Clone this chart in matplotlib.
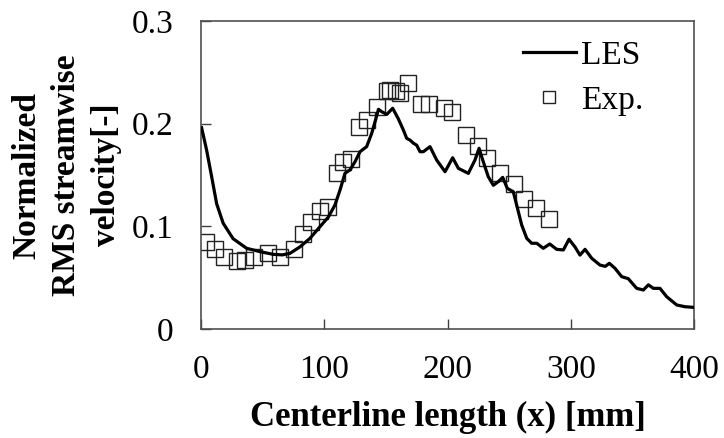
import matplotlib
matplotlib.use("Agg")
import matplotlib.pyplot as plt

plt.rcParams['font.family'] = ['Liberation Serif', 'DejaVu Serif']

les_x = [0.5, 2, 4.6, 8.7, 12.7, 18, 26, 37, 48, 58.7, 66, 72.2, 80.3, 88.4, 96.5, 103.3,
         108.7, 112.8, 116.8, 120.9, 125, 129, 134.4, 138.5, 142, 144, 146.6, 150.7, 155.5,
         160, 164.2, 166.9, 169.6, 172.3, 175, 177.7, 180.4, 185.8, 191.2, 198, 204.2,
         208.8, 216.9, 222.3, 225.6, 229, 233.1, 237.2, 241.2, 244.8, 248.5, 253.4, 256.1,
         260.2, 264.3, 268.3, 272.4, 277.7, 283, 288.6, 294, 298.6, 303.4, 307.5, 311.6,
         317, 323.7, 328, 331.3, 336, 341.3, 346.7, 353.5, 358.9, 363, 367, 372.4, 377.8,
         386, 392.7, 399.4]
les_y = [0.196, 0.188, 0.174, 0.148, 0.122, 0.103, 0.088, 0.0786, 0.0753, 0.0727, 0.0722,
         0.0737, 0.080, 0.0883, 0.0996, 0.109, 0.1208, 0.1354, 0.1516, 0.155, 0.163, 0.1727,
         0.1776, 0.1906, 0.2052, 0.214, 0.2117, 0.209, 0.215, 0.205, 0.1938, 0.1857, 0.184,
         0.181, 0.179, 0.1727, 0.1727, 0.1776, 0.1646, 0.1532, 0.1668, 0.1565, 0.1516,
         0.1646, 0.176, 0.163, 0.1483, 0.140, 0.1435, 0.1477, 0.137, 0.1337, 0.1208, 0.1013,
         0.0883, 0.0835, 0.0835, 0.0786, 0.0828, 0.0776, 0.077, 0.0874, 0.080, 0.072, 0.0776,
         0.0689, 0.0623, 0.0610, 0.0640, 0.059, 0.051, 0.049, 0.0396, 0.038, 0.043, 0.0396,
         0.0396, 0.0315, 0.0234, 0.0217, 0.0211]

exp_x = [4, 11.4, 18.4, 29, 36, 43, 54, 64, 75.7, 83, 89, 96.5, 103, 110.6, 115.5, 121.7,
         128.5, 135, 143, 150.7, 153.6, 158, 161.5, 168, 178.5, 185, 197, 204, 214.7, 225,
         232, 243, 254, 262, 272, 282]
exp_y = [0.085, 0.078, 0.070, 0.0665, 0.067, 0.070, 0.074, 0.070, 0.078, 0.0925, 0.1045,
         0.1146, 0.119, 0.152, 0.163, 0.1656, 0.197, 0.204, 0.216, 0.232, 0.233, 0.232, 0.230,
         0.2395, 0.219, 0.219, 0.2155, 0.2117, 0.189, 0.178, 0.167, 0.152, 0.141, 0.127,
         0.118, 0.107]

x_ticks = [0, 100, 200, 300, 400]
y_ticks = [0, 0.1, 0.2, 0.3]
y_tick_labels = ['0', '0.1', '0.2', '0.3']

fig = plt.figure(figsize=(7.24, 4.38), dpi=100)
ax = fig.add_axes([201/724, 1 - 329/438, (694-201)/724, (329-21)/438])

ax.plot(les_x, les_y, color='black', lw=2.3, label='LES', zorder=3)
ax.plot(exp_x, exp_y, linestyle='none', marker='s', markersize=11, markerfacecolor='none',
        markeredgecolor='#222222', markeredgewidth=1.0, label='Exp.', zorder=2)

ax.set_xlim(0, 400)
ax.set_ylim(0, 0.3)
ax.set_xticks(x_ticks)
ax.set_yticks(y_ticks)
ax.set_yticklabels(y_tick_labels)
ax.tick_params(direction='in', length=7, width=1.0, colors='#404040', labelcolor='black',
               labelsize=24)
ax.tick_params(axis='y', pad=20)
ax.tick_params(axis='x', pad=18)
for s in ax.spines.values():
    s.set_color('#505050')
    s.set_linewidth(1.2)

ax.set_xlabel('Centerline length (x) [mm]', fontsize=25, fontweight='bold', labelpad=12)
ax.set_ylabel('Normalized\nRMS streamwise\nvelocity[-]', fontsize=24, fontweight='bold',
              labelpad=7, linespacing=1.35)

leg = ax.legend(loc='upper right', bbox_to_anchor=(0.938, 1.003), frameon=False, fontsize=24,
                handlelength=1.6, handletextpad=0.15, labelspacing=0.45, markerscale=0.75,
                borderaxespad=0.2)

fig.savefig('out.png', dpi=100)
